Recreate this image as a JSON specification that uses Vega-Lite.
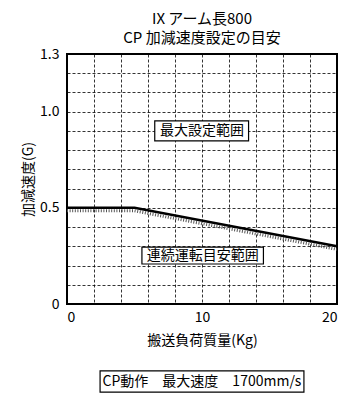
{
  "$schema": "https://vega.github.io/schema/vega-lite/v6.json",
  "width": 270,
  "height": 250,
  "autosize": "none",
  "padding": {"left": 67, "top": 54, "right": 16, "bottom": 106},
  "background": "white",
  "config": {
    "font": "Noto Sans CJK JP",
    "view": {"stroke": "black", "strokeWidth": 2},
    "axis": {
      "labelFont": "Noto Sans CJK JP",
      "titleFont": "Noto Sans CJK JP",
      "labelFontSize": 14,
      "titleFontSize": 14,
      "titleFontWeight": "normal",
      "labelColor": "black",
      "titleColor": "black",
      "domain": false,
      "ticks": false,
      "grid": true,
      "gridColor": "black",
      "gridDash": [3, 2],
      "gridWidth": 0.8,
      "gridOpacity": 1
    }
  },
  "title": {
    "text": ["IX アーム長800", "CP 加減速度設定の目安"],
    "fontSize": 15,
    "fontWeight": "normal",
    "font": "Noto Sans CJK JP",
    "color": "black",
    "anchor": "middle",
    "lineHeight": 19,
    "offset": 1
  },
  "datasets": {
    "curve": [
      {"kg": 0, "g": 0.5},
      {"kg": 5, "g": 0.5},
      {"kg": 20, "g": 0.3}
    ],
    "boxes": [
      {"label": "最大設定範囲", "kg": 10, "g": 0.9, "x1": 6.5, "x2": 13.45, "y1": 0.848, "y2": 0.952},
      {"label": "連続運転目安範囲", "kg": 10.05, "g": 0.252, "x1": 5.55, "x2": 14.55, "y1": 0.208, "y2": 0.296},
      {"label": "CP動作　最大速度　1700mm/s", "kg": 10, "g": -0.403, "x1": 2.45, "x2": 17.55, "y1": -0.458, "y2": -0.348}
    ]
  },
  "encoding": {
    "x": {
      "field": "kg",
      "type": "quantitative",
      "scale": {"domain": [0, 20], "nice": false},
      "axis": {
        "title": "搬送負荷質量(Kg)",
        "values": [0, 2, 4, 6, 8, 10, 12, 14, 16, 18, 20],
        "labelExpr": "(datum.value == 0 || datum.value == 10 || datum.value == 20) ? datum.label : ''",
        "labelPadding": 6,
        "titlePadding": 9
      }
    },
    "y": {
      "field": "g",
      "type": "quantitative",
      "scale": {"domain": [0, 1.3], "nice": false},
      "axis": {
        "title": "加減速度(G)",
        "values": [0, 0.1, 0.2, 0.3, 0.4, 0.5, 0.6, 0.7, 0.8, 0.9, 1.0, 1.1, 1.2, 1.3],
        "labelExpr": "datum.value == 0 ? '0' : ((abs(datum.value - 0.5) < 0.01 || abs(datum.value - 1) < 0.01 || abs(datum.value - 1.3) < 0.01) ? format(datum.value, '.1f') : '')",
        "labelPadding": 8,
        "titlePadding": 4
      }
    }
  },
  "layer": [
    {
      "data": {"name": "curve"},
      "mark": {"type": "line", "color": "#555", "strokeWidth": 3, "strokeDash": [1, 1.6], "yOffset": 3, "clip": true}
    },
    {
      "data": {"name": "curve"},
      "mark": {"type": "line", "color": "black", "strokeWidth": 2.5}
    },
    {
      "data": {"name": "boxes"},
      "mark": {"type": "rect", "fill": "white", "stroke": "black", "strokeWidth": 1.2, "clip": false},
      "encoding": {
        "x": {"field": "x1", "type": "quantitative"},
        "x2": {"field": "x2"},
        "y": {"field": "y1", "type": "quantitative"},
        "y2": {"field": "y2"}
      }
    },
    {
      "data": {"name": "boxes"},
      "mark": {"type": "text", "fontSize": 14, "color": "black", "align": "center", "baseline": "middle", "clip": false},
      "encoding": {
        "text": {"field": "label", "type": "nominal"}
      }
    }
  ]
}
